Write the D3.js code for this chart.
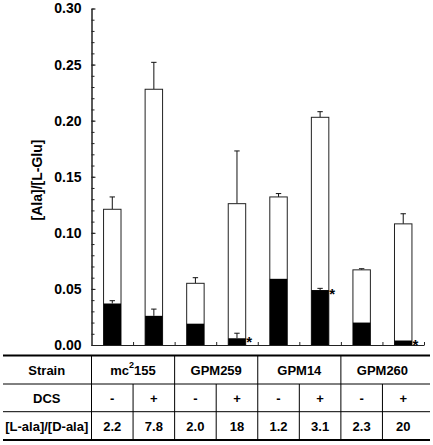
<!DOCTYPE html>
<html><head><meta charset="utf-8">
<script src="https://cdn.jsdelivr.net/npm/d3@7"></script>
<style>body{margin:0;background:#fff}svg{display:block;font-family:Arial,"Liberation Sans",sans-serif;font-weight:bold}</style>
</head><body><svg id="c" width="433" height="445"></svg>
<script>
const strains = ["mc²155", "GPM259", "GPM14", "GPM260"];
const dcs = ["-", "+", "-", "+", "-", "+", "-", "+"];
const ratio = ["2.2", "7.8", "2.0", "18", "1.2", "3.1", "2.3", "20"];
const totalAla = [0.121, 0.228, 0.055, 0.126, 0.132, 0.203, 0.067, 0.108];
const totalErr = [0.011, 0.024, 0.005, 0.047, 0.003, 0.005, 0.001, 0.009];
const dAla = [0.037, 0.026, 0.019, 0.006, 0.059, 0.049, 0.020, 0.004];
const dErr = [0.0025, 0.006, 0, 0.0045, 0, 0.0015, 0, 0];
const significant = [false, false, false, true, false, true, false, true];
const yTicks = [0, 0.05, 0.10, 0.15, 0.20, 0.25, 0.30];

const svg = d3.select("#c");
const ids = d3.range(totalAla.length);
const x = d3.scaleBand().domain(ids).range([91.5, 424]).paddingInner(0.58).paddingOuter(0.29);
const xb = d3.scaleLinear().domain([0, ids.length]).range([91.5, 424]);
const y = d3.scaleLinear().domain([0, 0.30]).range([345, 8.5]);

const yAxMinor = d3.axisLeft(y).tickValues(d3.range(0, 0.301, 0.01)).tickSize(-3).tickFormat("").tickSizeOuter(0);
svg.append("g").attr("transform", "translate(91.5,0)").call(yAxMinor)
  .call(g => g.selectAll("line,path").attr("stroke", "#222"));
const yAx = d3.axisLeft(y).tickValues(yTicks).tickSize(-4).tickPadding(10).tickSizeOuter(0).tickFormat(d3.format(".2f"));
svg.append("g").attr("transform", "translate(91.5,0)").call(yAx)
  .call(g => g.selectAll("line,path").attr("stroke", "#222"))
  .call(g => g.selectAll("text").attr("font-size", 14).attr("font-weight", "bold").attr("font-family", "Arial, 'Liberation Sans', sans-serif").attr("fill", "#000"));

const xAx = d3.axisBottom(xb).tickValues(d3.range(1, ids.length + 1)).tickSize(-3).tickFormat("").tickSizeOuter(0);
svg.append("g").attr("transform", `translate(0,${y(0)})`).call(xAx)
  .call(g => g.selectAll("line,path").attr("stroke", "#222"));

svg.append("text").attr("transform", `translate(38,180) rotate(-90)`)
  .attr("text-anchor", "middle").attr("dominant-baseline", "middle")
  .attr("font-size", 14).text("[Ala]/[L-Glu]");

const bw = x.bandwidth();
const cx = i => x(i) + bw / 2;
function errbar(i, v, e) {
  if (e <= 0) return;
  svg.append("line").attr("x1", cx(i)).attr("x2", cx(i)).attr("y1", y(v)).attr("y2", y(v + e)).attr("stroke", "#111");
  svg.append("line").attr("x1", cx(i) - 2.7).attr("x2", cx(i) + 2.7).attr("y1", y(v + e)).attr("y2", y(v + e)).attr("stroke", "#111");
}
ids.forEach(i => {
  errbar(i, totalAla[i], totalErr[i]);
  svg.append("rect").attr("x", x(i)).attr("width", bw).attr("y", y(totalAla[i])).attr("height", y(0) - y(totalAla[i]))
    .attr("fill", "#fff").attr("stroke", "#222").attr("stroke-width", 1);
  svg.append("rect").attr("x", x(i)).attr("width", bw).attr("y", y(dAla[i])).attr("height", y(0) - y(dAla[i]))
    .attr("fill", "#000");
  errbar(i, dAla[i], dErr[i]);
  if (significant[i]) {
    svg.append("text").attr("x", x(i) + bw + 0.5).attr("y", y(dAla[i]) + 9).attr("font-size", 15).text("*");
  }
});

const rowY = [355.5, 384, 411.7, 440];
const rowMid = [370, 398, 426];
const tbl = svg.append("g");
tbl.append("line").attr("x1", 3).attr("x2", 430).attr("y1", rowY[0]).attr("y2", rowY[0]).attr("stroke", "#000").attr("stroke-width", 2);
tbl.append("line").attr("x1", 3).attr("x2", 430).attr("y1", rowY[3]).attr("y2", rowY[3]).attr("stroke", "#000").attr("stroke-width", 2);
[1, 2].forEach(r => tbl.append("line").attr("x1", 3).attr("x2", 430).attr("y1", rowY[r]).attr("y2", rowY[r]).attr("stroke", "#000").attr("stroke-width", 1));
d3.range(0, ids.length).forEach(k => {
  const full = k % 2 === 0;
  tbl.append("line").attr("x1", xb(k)).attr("x2", xb(k)).attr("y1", full ? rowY[0] : rowY[1]).attr("y2", rowY[3]).attr("stroke", "#000");
});
const hdr = ["Strain", "DCS", "[L-ala]/[D-ala]"];
hdr.forEach((t, r) => tbl.append("text").attr("x", xb(0) / 2 + 1).attr("y", rowMid[r]).attr("text-anchor", "middle")
  .attr("dominant-baseline", "central").attr("font-size", 13).text(t));
strains.forEach((s, k) => {
  const t = tbl.append("text").attr("x", (xb(2 * k) + xb(2 * k + 2)) / 2).attr("y", rowMid[0]).attr("text-anchor", "middle")
    .attr("dominant-baseline", "central").attr("font-size", 13);
  if (s.includes("²")) {
    const [a, b] = s.split("²");
    t.append("tspan").text(a);
    t.append("tspan").attr("font-size", 9).attr("dy", -5).text("2");
    t.append("tspan").attr("dy", 5).text(b);
  } else t.text(s);
});
ids.forEach(i => {
  const mx = (xb(i) + xb(i + 1)) / 2;
  tbl.append("text").attr("x", mx).attr("y", rowMid[1]).attr("text-anchor", "middle").attr("dominant-baseline", "central").attr("font-size", 13).text(dcs[i]);
  tbl.append("text").attr("x", mx).attr("y", rowMid[2]).attr("text-anchor", "middle").attr("dominant-baseline", "central").attr("font-size", 13).text(ratio[i]);
});
</script></body></html>
